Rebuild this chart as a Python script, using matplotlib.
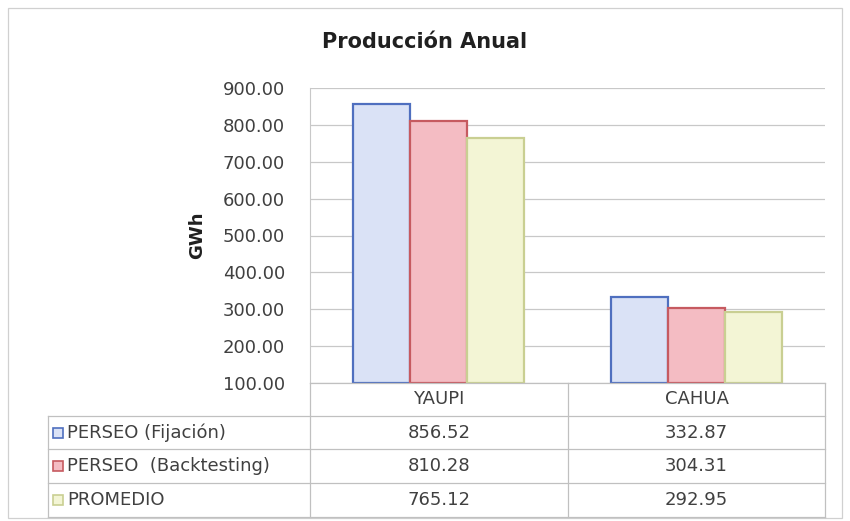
import numpy as np
import matplotlib.pyplot as plt
from matplotlib.patches import Rectangle
from matplotlib.lines import Line2D

categories = ['YAUPI', 'CAHUA']
series = ['PERSEO (Fijación)', 'PERSEO  (Backtesting)', 'PROMEDIO']
values = [
    [856.52, 332.87],
    [810.28, 304.31],
    [765.12, 292.95],
]
yticks = [100, 200, 300, 400, 500, 600, 700, 800, 900]

fills = ['#dae2f6', '#f4bcc3', '#f3f5d5']
edges = ['#4f6fbf', '#c65a60', '#c9cf92']
txt = '#404040'
W, H = 850, 521

fig = plt.figure(figsize=(8.5, 5.21), dpi=100)
fig.patch.set_facecolor('white')

# plot area in pixel coordinates
px0, px1, py0, py1 = 310, 825, 88, 383
ax = fig.add_axes([px0 / W, 1 - py1 / H, (px1 - px0) / W, (py1 - py0) / H])

x = np.arange(len(categories))
bw = 0.222
for i in range(len(series)):
    ax.bar(x + (i - 1) * bw, np.array(values[i]) - 100, bottom=100, width=bw,
           color=fills[i], edgecolor=edges[i], linewidth=1.6, zorder=3)

ax.set_xlim(-0.5, 1.5)
ax.set_ylim(100, 900)
ax.set_yticks(yticks)
ax.set_yticklabels(['%.2f' % v for v in yticks], color=txt, fontsize=13)
ax.set_xticks([])
ax.tick_params(axis='y', length=0, pad=18)
ax.grid(axis='y', color='#c8c8c8', linewidth=0.9, zorder=0)
for s in ['top', 'right', 'bottom']:
    ax.spines[s].set_visible(False)
ax.spines['left'].set_color('#c8c8c8')
ax.set_ylabel('GWh', fontsize=13, fontweight='bold', color='#202020', labelpad=12)

fig.text(425 / W, 1 - 42 / H, 'Producción Anual', ha='center', va='center',
         fontsize=15, fontweight='bold', color='#202020')

# data table below the plot
lc = '#c0c0c0'
tx0 = 48
colx = [px0, 568, px1]
rows = [383, 416, 449, 483, 517]


def hline(y, xa, xb):
    fig.add_artist(Line2D([xa / W, xb / W], [1 - y / H, 1 - y / H], color=lc, lw=0.9))


def vline(xv, ya, yb):
    fig.add_artist(Line2D([xv / W, xv / W], [1 - ya / H, 1 - yb / H], color=lc, lw=0.9))


hline(rows[0], px0, px1)
for r in rows[1:]:
    hline(r, tx0, px1)
vline(tx0, rows[1], rows[-1])
for c in colx:
    vline(c, rows[0], rows[-1])

for j, cat in enumerate(categories):
    fig.text((colx[j] + colx[j + 1]) / 2 / W, 1 - (rows[0] + rows[1]) / 2 / H, cat,
             ha='center', va='center', fontsize=13, color=txt)

for i, name in enumerate(series):
    yc = (rows[i + 1] + rows[i + 2]) / 2
    fig.add_artist(Rectangle(((tx0 + 5) / W, 1 - (yc + 5) / H), 10 / W, 10 / H,
                             facecolor=fills[i], edgecolor=edges[i], lw=1.2))
    fig.text((tx0 + 19) / W, 1 - yc / H, name, ha='left', va='center',
             fontsize=13, color=txt)
    for j in range(len(categories)):
        fig.text((colx[j] + colx[j + 1]) / 2 / W, 1 - yc / H, '%.2f' % values[i][j],
                 ha='center', va='center', fontsize=13, color=txt)

# outer chart frame
fig.add_artist(Rectangle((8 / W, 1 - 518 / H), 834 / W, 510 / H, fill=False,
                         edgecolor='#d0d0d0', lw=0.9))

fig.savefig('out.png', dpi=100)
